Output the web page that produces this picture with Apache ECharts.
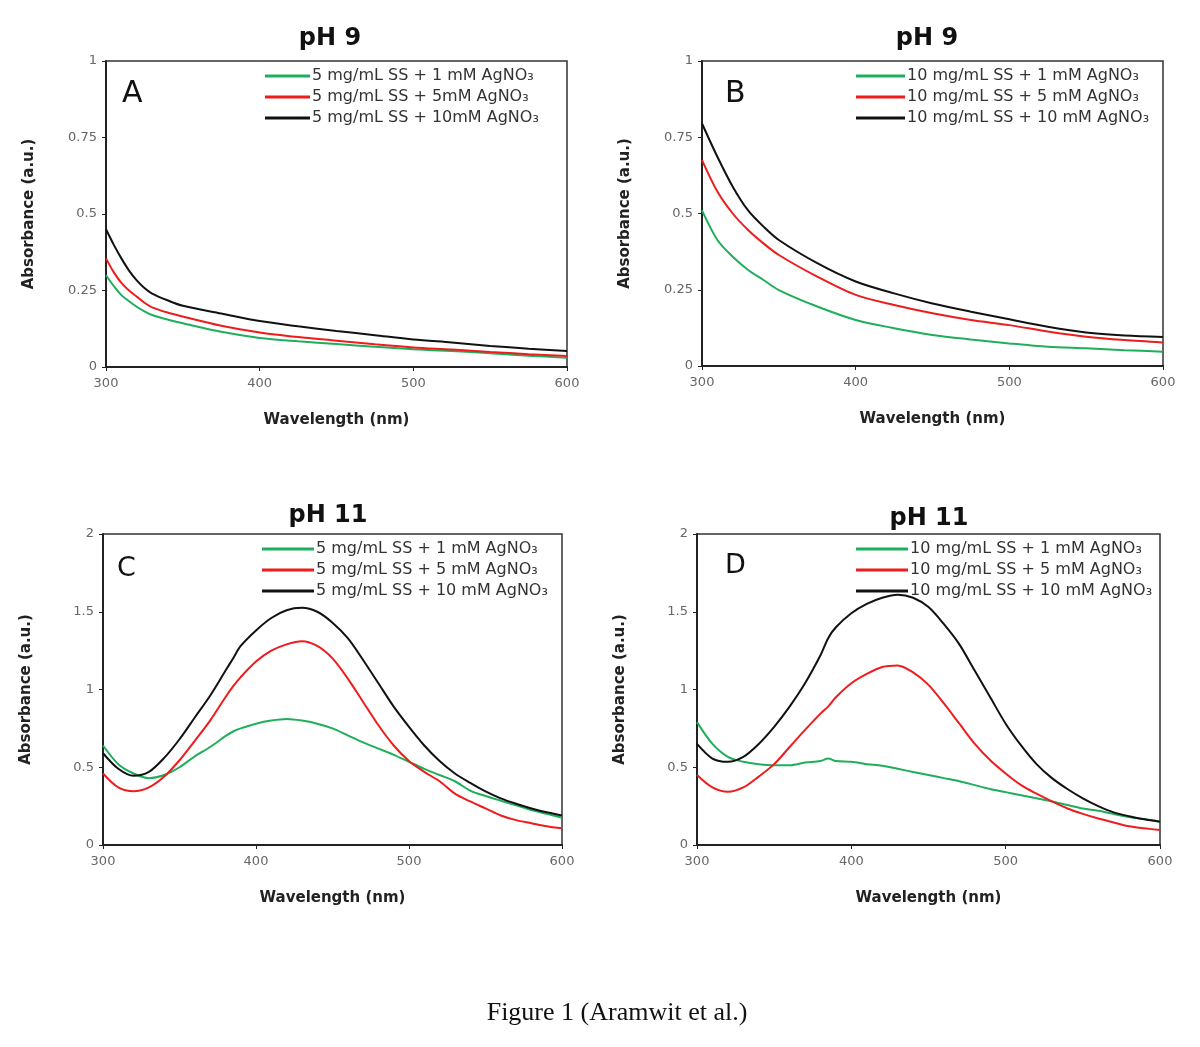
<!DOCTYPE html>
<html>
<head>
<meta charset="utf-8">
<title>Figure 1</title>
<script src="https://cdn.jsdelivr.net/npm/echarts@6/dist/echarts.min.js"></script>
<style>
  html, body { margin: 0; padding: 0; background: #fff; }
  #chart { width: 1200px; height: 1047px; }
</style>
</head>
<body>
<div id="chart"></div>
<script>
// wavelengths (nm)
const wlA = [300, 305, 310, 315, 320, 325, 330, 340, 350, 375, 400, 425, 450, 475, 500, 525, 550, 575, 600];
const wlB = [300, 310, 320, 330, 340, 350, 375, 400, 425, 450, 475, 500, 525, 550, 575, 600];
const wlCD = [300, 310, 320, 330, 340, 350, 360, 370, 380, 385, 390, 400, 410, 420, 430, 440, 450, 460,
              470, 480, 490, 500, 510, 520, 530, 540, 550, 560, 570, 580, 590, 600];

// A: pH 9, 5 mg/mL SS
const aGreen = [0.30, 0.265, 0.235, 0.215, 0.197, 0.182, 0.17, 0.155, 0.143, 0.115, 0.095, 0.084, 0.075, 0.066, 0.058, 0.052, 0.045, 0.037, 0.03];
const aRed   = [0.355, 0.31, 0.275, 0.25, 0.23, 0.21, 0.195, 0.178, 0.165, 0.135, 0.113, 0.098, 0.086, 0.074, 0.064, 0.057, 0.049, 0.042, 0.036];
const aBlack = [0.45, 0.40, 0.355, 0.315, 0.283, 0.258, 0.24, 0.218, 0.20, 0.175, 0.15, 0.133, 0.118, 0.104, 0.09, 0.08, 0.069, 0.06, 0.052];

// B: pH 9, 10 mg/mL SS
const bGreen = [0.51, 0.413, 0.358, 0.315, 0.282, 0.249, 0.195, 0.151, 0.124, 0.102, 0.087, 0.074, 0.063, 0.058, 0.052, 0.047];
const bRed   = [0.675, 0.572, 0.50, 0.446, 0.402, 0.364, 0.293, 0.233, 0.20, 0.173, 0.151, 0.134, 0.113, 0.096, 0.085, 0.077];
const bBlack = [0.795, 0.686, 0.588, 0.51, 0.457, 0.413, 0.337, 0.277, 0.238, 0.205, 0.178, 0.153, 0.129, 0.11, 0.10, 0.095];

// C: pH 11, 5 mg/mL SS
const cGreen = [0.64, 0.52, 0.46, 0.43, 0.45, 0.50, 0.57, 0.63, 0.70, 0.73, 0.75, 0.78, 0.80, 0.81, 0.80, 0.78, 0.75, 0.705,
                0.66, 0.62, 0.58, 0.535, 0.49, 0.45, 0.41, 0.35, 0.315, 0.285, 0.255, 0.225, 0.20, 0.175];
const cRed   = [0.46, 0.37, 0.345, 0.37, 0.44, 0.545, 0.67, 0.80, 0.95, 1.02, 1.08, 1.18, 1.25, 1.29, 1.31, 1.28, 1.20, 1.07,
                0.92, 0.77, 0.64, 0.54, 0.47, 0.41, 0.33, 0.28, 0.235, 0.19, 0.16, 0.14, 0.12, 0.107];
const cBlack = [0.59, 0.49, 0.445, 0.47, 0.56, 0.68, 0.82, 0.96, 1.12, 1.20, 1.28, 1.38, 1.46, 1.51, 1.525, 1.50, 1.43, 1.33,
                1.19, 1.04, 0.89, 0.76, 0.64, 0.54, 0.46, 0.40, 0.345, 0.30, 0.265, 0.235, 0.21, 0.19];

// D: pH 11, 10 mg/mL SS
const dGreen = [0.79, 0.65, 0.567, 0.535, 0.52, 0.513, 0.513, 0.53, 0.54, 0.556, 0.54, 0.535, 0.52, 0.51, 0.49, 0.47, 0.45, 0.43,
                0.41, 0.385, 0.36, 0.34, 0.32, 0.30, 0.28, 0.257, 0.235, 0.22, 0.20, 0.18, 0.165, 0.15];
const dRed   = [0.45, 0.37, 0.342, 0.37, 0.44, 0.52, 0.63, 0.74, 0.845, 0.89, 0.95, 1.04, 1.10, 1.145, 1.155, 1.11, 1.03, 0.91,
                0.78, 0.65, 0.545, 0.46, 0.385, 0.33, 0.28, 0.235, 0.20, 0.17, 0.145, 0.12, 0.107, 0.096];
const dBlack = [0.65, 0.556, 0.535, 0.567, 0.65, 0.76, 0.89, 1.04, 1.22, 1.33, 1.40, 1.49, 1.55, 1.59, 1.61, 1.59, 1.53, 1.42,
                1.29, 1.12, 0.95, 0.78, 0.64, 0.52, 0.43, 0.36, 0.30, 0.25, 0.21, 0.185, 0.165, 0.15];

const namesA = ['5 mg/mL SS + 1 mM AgNO₃', '5 mg/mL SS + 5mM AgNO₃', '5 mg/mL SS + 10mM AgNO₃'];
const namesB = ['10 mg/mL SS + 1 mM AgNO₃', '10 mg/mL SS + 5 mM AgNO₃', '10 mg/mL SS + 10 mM AgNO₃'];
const namesC = ['5 mg/mL SS + 1 mM AgNO₃', '5 mg/mL SS + 5 mM AgNO₃', '5 mg/mL SS + 10 mM AgNO₃'];
const namesD = ['10 mg/mL SS + 1 mM AgNO₃', '10 mg/mL SS + 5 mM AgNO₃', '10 mg/mL SS + 10 mM AgNO₃'];

const colors = ['#1fae5b', '#ee1c1c', '#111111'];

// plot boxes and text spots per panel
const panels = [
  { grid: { left: 106, top: 61, width: 461, height: 306 }, yMax: 1, yStep: 0.25, wl: wlA, ys: [aGreen, aRed, aBlack], names: namesA,
    title: 'pH 9', tx: 325, ty: 22, letter: 'A', lx: 117, ly: 74, lsize: 30, legLeft: 265, legTop: 68, iconW: 45 },
  { grid: { left: 702, top: 61, width: 461, height: 305 }, yMax: 1, yStep: 0.25, wl: wlB, ys: [bGreen, bRed, bBlack], names: namesB,
    title: 'pH 9', tx: 922, ty: 22, letter: 'B', lx: 720, ly: 74, lsize: 30, legLeft: 856, legTop: 68, iconW: 49 },
  { grid: { left: 103, top: 534, width: 459, height: 311 }, yMax: 2, yStep: 0.5, wl: wlCD, ys: [cGreen, cRed, cBlack], names: namesC,
    title: 'pH 11', tx: 323, ty: 499, letter: 'C', lx: 112, ly: 550, lsize: 27, legLeft: 262, legTop: 541, iconW: 52 },
  { grid: { left: 697, top: 534, width: 463, height: 311 }, yMax: 2, yStep: 0.5, wl: wlCD, ys: [dGreen, dRed, dBlack], names: namesD,
    title: 'pH 11', tx: 924, ty: 502, letter: 'D', lx: 720, ly: 547, lsize: 27, legLeft: 856, legTop: 541, iconW: 52 }
];

const grids = [], xAxes = [], yAxes = [], series = [], legends = [], titles = [];

panels.forEach(function (p, i) {
  grids.push(Object.assign({ show: true, borderColor: '#333', borderWidth: 1.5, backgroundColor: '#fff' }, p.grid));
  xAxes.push({
    type: 'value', gridIndex: i, min: 300, max: 600, interval: 100,
    name: 'Wavelength (nm)', nameLocation: 'middle', nameGap: 46,
    nameTextStyle: { fontFamily: 'DejaVu Sans', fontWeight: 'bold', fontSize: 15, color: '#222' },
    axisLine: { lineStyle: { color: '#222', width: 2 } },
    axisTick: { inside: false, length: 4, lineStyle: { color: '#222' } },
    axisLabel: { fontFamily: 'DejaVu Sans', fontSize: 13, color: '#666', margin: 10 },
    splitLine: { show: false }
  });
  yAxes.push({
    type: 'value', gridIndex: i, min: 0, max: p.yMax, interval: p.yStep,
    name: 'Absorbance (a.u.)', nameLocation: 'middle', nameGap: 69,
    nameTextStyle: { fontFamily: 'DejaVu Sans', fontWeight: 'bold', fontSize: 15, color: '#222' },
    axisLine: { lineStyle: { color: '#222', width: 2 } },
    axisTick: { inside: false, length: 4, lineStyle: { color: '#222' } },
    axisLabel: { fontFamily: 'DejaVu Sans', fontSize: 13, color: '#666', margin: 9 },
    splitLine: { show: false }
  });
  p.ys.forEach(function (vals, k) {
    series.push({
      name: p.names[k], type: 'line', xAxisIndex: i, yAxisIndex: i,
      data: p.wl.map(function (w, j) { return [w, vals[j]]; }),
      showSymbol: false, smooth: 0.3,
      lineStyle: { color: colors[k], width: 2 }, itemStyle: { color: colors[k] }
    });
  });
  legends.push({
    data: p.names, orient: 'vertical', left: p.legLeft, top: p.legTop, padding: 0,
    icon: 'rect', itemWidth: p.iconW, itemHeight: 3, itemGap: 5,
    selectedMode: false,
    textStyle: { fontFamily: 'DejaVu Sans', fontSize: 16, color: '#333', lineHeight: 16, padding: [0, 0, 0, -3] }
  });
  titles.push({
    text: p.title, left: p.tx, top: p.ty, textAlign: 'center',
    textStyle: { fontFamily: 'DejaVu Sans', fontWeight: 'bold', fontSize: 24, color: '#111' }
  });
  titles.push({
    text: p.letter, left: p.lx, top: p.ly,
    textStyle: { fontFamily: 'DejaVu Sans', fontWeight: 'normal', fontSize: p.lsize, color: '#111' }
  });
});

titles.push({
  text: 'Figure 1 (Aramwit et al.)', left: 612, top: 995, textAlign: 'center',
  textStyle: { fontFamily: 'Liberation Serif', fontWeight: 'normal', fontSize: 26, color: '#111' }
});

const myChart = echarts.init(document.getElementById('chart'), null, { renderer: 'canvas' });
myChart.setOption({
  animation: false,
  backgroundColor: '#fff',
  title: titles,
  legend: legends,
  grid: grids,
  xAxis: xAxes,
  yAxis: yAxes,
  series: series
});
</script>
</body>
</html>
